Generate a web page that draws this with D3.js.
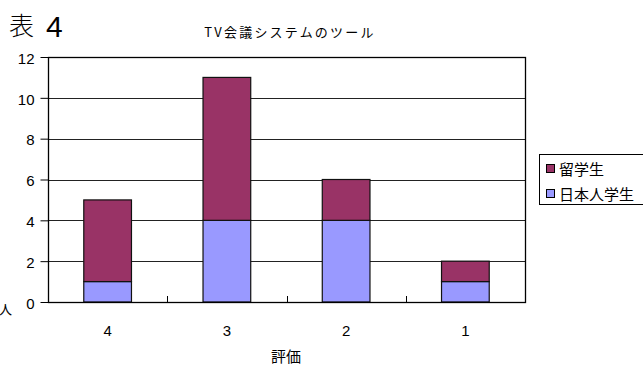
<!DOCTYPE html>
<html>
<head>
<meta charset="utf-8">
<script src="https://cdn.jsdelivr.net/npm/d3@7"></script>
<style>
  html, body { margin: 0; padding: 0; background: #fff; }
  svg { display: block; font-family: "Noto Sans CJK JP", "Noto Sans", sans-serif; }
  .num { font-family: "Liberation Sans Narrow", "Liberation Sans", "DejaVu Sans Condensed", sans-serif; }
</style>
</head>
<body>
<svg id="chart" width="643" height="365"></svg>
<script>
// Ratings (x-axis categories) in display order
const categories = ["4", "3", "2", "1"];
// Number of respondents per rating
const japaneseStudents = [1, 4, 4, 1];      // 日本人学生
const internationalStudents = [4, 7, 2, 1]; // 留学生
const yTicks = [0, 2, 4, 6, 8, 10, 12];

const seriesNames = ["日本人学生", "留学生"];
const seriesColors = { "日本人学生": "#9999ff", "留学生": "#993366" };

const rows = categories.map((c, i) => ({
  cat: c,
  "日本人学生": japaneseStudents[i],
  "留学生": internationalStudents[i]
}));

const svg = d3.select("#chart");
const plot = { left: 48, right: 525, top: 57, bottom: 302 };

const x = d3.scaleBand().domain(categories).range([plot.left, plot.right]).paddingInner(0.6).paddingOuter(0.3);
const xOuter = d3.scaleBand().domain(categories).range([plot.left, plot.right]);
const y = d3.scaleLinear().domain([0, 12]).range([plot.bottom, plot.top]);

// Horizontal gridlines
svg.append("g").selectAll("line").data(yTicks.slice(1, -1)).join("line")
  .attr("x1", plot.left).attr("x2", plot.right)
  .attr("y1", d => Math.round(y(d)) + 0.5).attr("y2", d => Math.round(y(d)) + 0.5)
  .attr("stroke", "#222").attr("stroke-width", 1);

// Stacked bars
const stack = d3.stack().keys(seriesNames)(rows);
svg.append("g").selectAll("g").data(stack).join("g")
  .attr("fill", d => seriesColors[d.key])
  .selectAll("rect").data(d => d).join("rect")
  .attr("x", d => x(d.data.cat))
  .attr("width", x.bandwidth())
  .attr("y", d => y(d[1]))
  .attr("height", d => y(d[0]) - y(d[1]))
  .attr("stroke", "#111").attr("stroke-width", 1.2);

// Plot frame
svg.append("rect")
  .attr("x", plot.left + 0.5).attr("y", plot.top + 0.5)
  .attr("width", plot.right - plot.left).attr("height", plot.bottom - plot.top)
  .attr("fill", "none").attr("stroke", "#000").attr("stroke-width", 1.3);

// Y axis
const yAxis = svg.append("g")
  .attr("transform", `translate(${plot.left + 0.5},0)`)
  .call(d3.axisLeft(y).tickValues(yTicks).tickSize(8).tickPadding(6));
yAxis.select(".domain").remove();
yAxis.selectAll(".tick line").attr("stroke", "#000");
yAxis.selectAll("text").attr("class", "num").attr("font-size", 15).attr("fill", "#000")
  .attr("dy", "0.42em");

// X axis: ticks between categories, pointing up
const xBounds = categories.slice(1).map(c => xOuter(c));
svg.append("g").selectAll("line").data(xBounds).join("line")
  .attr("x1", d => Math.round(d) + 0.5).attr("x2", d => Math.round(d) + 0.5)
  .attr("y1", plot.bottom).attr("y2", plot.bottom - 6)
  .attr("stroke", "#000");
svg.append("g").selectAll("text").data(categories).join("text")
  .attr("class", "num")
  .attr("x", d => xOuter(d) + xOuter.bandwidth() / 2)
  .attr("y", 336)
  .attr("text-anchor", "middle")
  .attr("font-size", 15)
  .text(d => d);

// Axis titles
svg.append("text").attr("x", 286).attr("y", 362).attr("text-anchor", "middle")
  .attr("font-size", 15).text("評価");
svg.append("text").attr("x", 12).attr("y", 314).attr("text-anchor", "end")
  .attr("font-size", 13).text("人");

// Titles
svg.append("text").attr("x", 290).attr("y", 37).attr("text-anchor", "middle")
  .attr("font-size", 13).attr("letter-spacing", 2.2).text("TV会議システムのツール");
svg.append("text").attr("x", 9).attr("y", 35)
  .attr("font-size", 25).attr("font-weight", 300).text("表");
svg.append("text").attr("class", "num").attr("x", 46).attr("y", 37)
  .attr("font-size", 30).attr("font-family", "Liberation Sans, Arial, sans-serif").text("4");

// Legend (top entry is the upper stack segment)
const legend = svg.append("g");
legend.append("rect").attr("x", 539.5).attr("y", 154.5).attr("width", 110).attr("height", 50)
  .attr("fill", "#fff").attr("stroke", "#000");
const legendItems = ["留学生", "日本人学生"];
legendItems.forEach((name, i) => {
  const cy = 169 + i * 25;
  legend.append("rect").attr("x", 546.5).attr("y", cy - 4.5).attr("width", 8).attr("height", 8)
    .attr("fill", seriesColors[name]).attr("stroke", "#000");
  legend.append("text").attr("x", 559).attr("y", cy + 5.5)
    .attr("font-size", 15).text(name);
});
</script>
</body>
</html>
